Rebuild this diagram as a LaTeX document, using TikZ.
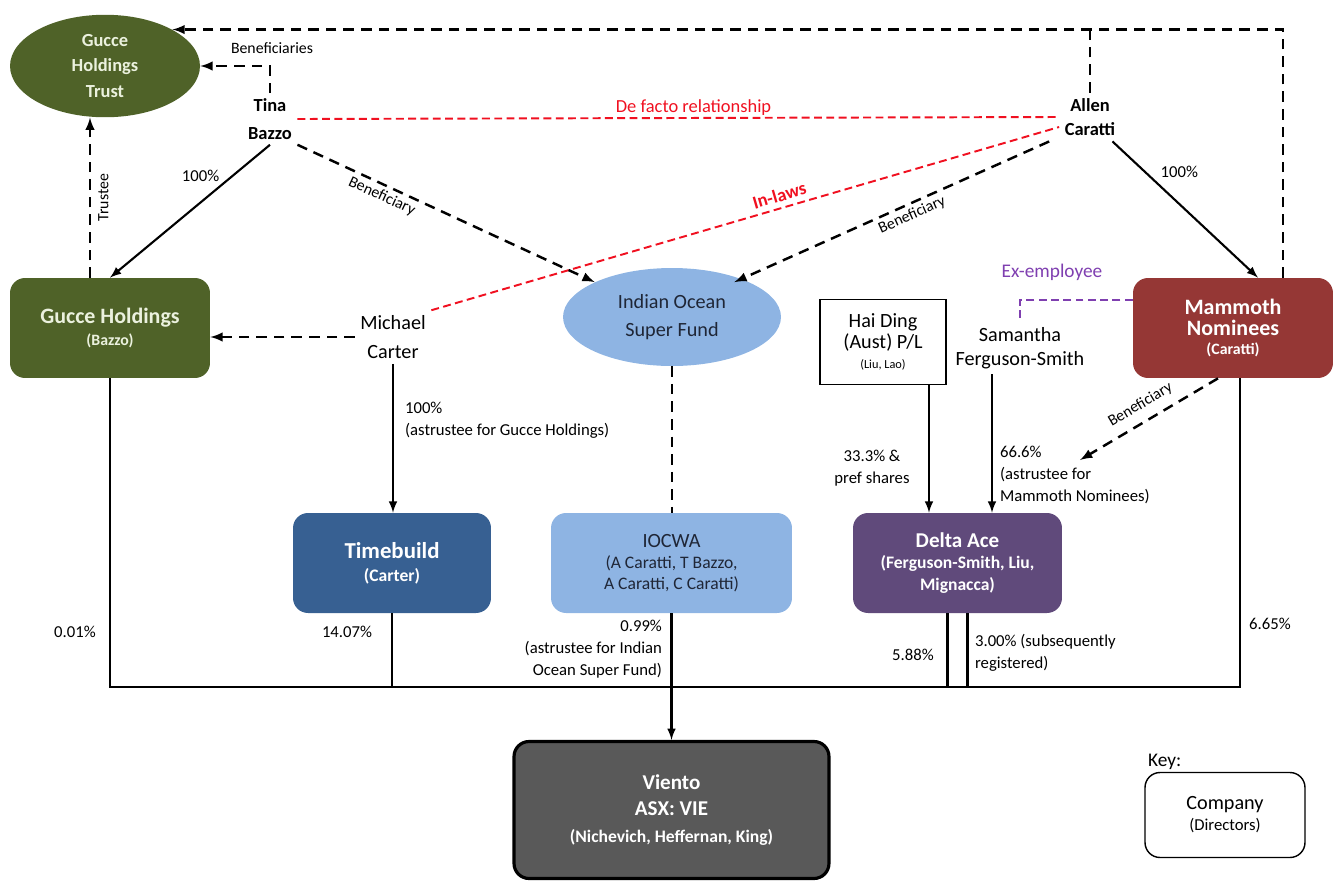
\documentclass[tikz,border=0pt]{standalone}
\usepackage{fontspec}
\setmainfont{Carlito}
\usetikzlibrary{shapes.geometric}

\definecolor{olivebox}{HTML}{4F6228}
\definecolor{olivetext}{HTML}{EBF1DE}
\definecolor{steelbox}{HTML}{376092}
\definecolor{skybox}{HTML}{8EB4E3}
\definecolor{skytext}{HTML}{1F2636}
\definecolor{plumbox}{HTML}{604A7B}
\definecolor{brickbox}{HTML}{953735}
\definecolor{slatebox}{HTML}{595959}
\definecolor{relred}{HTML}{F01020}
\definecolor{expurple}{HTML}{7F3FB0}

\newcommand{\fsz}[2]{\fontsize{#1}{#2}\selectfont}

\tikzset{
  company/.style={rounded corners=0.3cm, minimum width=4cm, minimum height=2cm, align=center, inner sep=2pt, font=\bfseries},
  person/.style={align=center, inner sep=3pt},
  own/.style={-latex, line width=1.2pt},
  benef/.style={-latex, line width=1.4pt, dash pattern=on 6pt off 4pt},
  link/.style={line width=1.4pt, dash pattern=on 6pt off 4pt},
  rel/.style={relred, line width=1.1pt, dash pattern=on 4.5pt off 2.5pt},
  bus/.style={line width=1.2pt},
  pct/.style={font=\fsz{9.5}{12.5}, align=left, inner sep=1pt},
}

\begin{document}
\begin{tikzpicture}[x=0.02cm, y=-0.02cm]
    \useasboundingbox (0,0) rectangle (1333,880);

    % owners and trusts
    \node[ellipse, fill=olivebox, text=olivetext, minimum width=3.8cm, minimum height=2.05cm, align=center, inner sep=0pt, font=\bfseries\fsz{10.5}{14.5}] (trust) at (105,66) {Gucce\\Holdings\\Trust};
    \node[person, font=\bfseries\fsz{10.5}{15.5}] (tina) at (270,119) {Tina\\Bazzo};
    \node[person, font=\bfseries\fsz{10.5}{14}] (allen) at (1090,117) {Allen\\Caratti};
    \node[person, font=\fsz{11.5}{16}] (mc) at (393,337) {Michael\\Carter};
    \node[person, font=\fsz{11.5}{13.5}] (sfs) at (1020,348) {Samantha\\Ferguson-Smith};
    \node[ellipse, fill=skybox, text=skytext, minimum width=4.36cm, minimum height=1.96cm, align=center, inner sep=0pt, font=\fsz{11.5}{16}] (iosf) at (672,317) {Indian Ocean\\Super Fund};

    % companies
    \node[company, fill=olivebox, text=olivetext] (gh) at (110,328) {\fsz{12.5}{15}Gucce Holdings\\[1pt]\fsz{9}{11}(Bazzo)};
    \node[company, fill=brickbox, text=white, minimum width=4cm] (mam) at (1233,328) {\fsz{12.5}{15}Mammoth\\\fsz{12.5}{15}Nominees\\[-1pt]\fsz{9}{11}(Caratti)};
    \node[draw, line width=0.8pt, minimum width=2.52cm, minimum height=1.7cm, align=center, inner sep=1pt] (hd) at (883,342) {\fsz{11.5}{14}Hai Ding\\\fsz{11.5}{14}(Aust) P/L\\[-1pt]\fsz{7}{9}(Liu, Lao)};
    \node[company, fill=steelbox, text=white, minimum width=3.96cm] (tb) at (392,563) {\fsz{13}{16}Timebuild\\[1pt]\fsz{10}{12}(Carter)};
    \node[company, fill=skybox, text=skytext, minimum width=4.82cm, font=\normalfont] (iocwa) at (671.5,563) {\fsz{11.5}{14}IOCWA\\\fsz{10}{12.5}(A Caratti, T Bazzo,\\\fsz{10}{12.5}A Caratti, C Caratti)};
    \node[company, fill=plumbox, text=white, minimum width=4.18cm] (da) at (957.5,563) {\fsz{12}{14}Delta Ace\\\fsz{10}{12.5}(Ferguson-Smith, Liu,\\\fsz{10}{12.5}Mignacca)};
    \node[company, fill=slatebox, text=white, draw=black, line width=1.8pt, minimum width=6.3cm, minimum height=2.74cm] (vi) at (671.5,810) {\fsz{12}{15}Viento\\[3pt]\fsz{12}{15}ASX: VIE\\[3pt]\fsz{10}{13}(Nichevich, Heffernan, King)};

    % key
    \node[draw, rounded corners=0.3cm, line width=0.8pt, minimum width=3.2cm, minimum height=1.7cm, align=center] (key) at (1225,815) {\fsz{11.5}{14}Company\\\fsz{9.5}{12}(Directors)};
    \node[anchor=south west, inner sep=1pt, font=\fsz{11}{13}] (keylbl) at (1146,772) {Key:};

    % relationships
    \draw[rel] (tina.east) -- node[above, inner sep=1pt, pos=.52, font=\fsz{10.5}{12}] (defacto) {De facto relationship} (allen.west);
    \draw[rel] (mc.north east) -- node[above, sloped, pos=.56, inner sep=3pt, font=\bfseries\fsz{10.5}{12}] (inlaws) {In-laws} ([yshift=-0.2cm]allen.west);
    \draw[expurple, line width=1.1pt, dash pattern=on 4.5pt off 2.5pt] ([yshift=0.56cm]mam.west) -| (sfs.north);
    \node[text=expurple, font=\fsz{11}{13}] (exemp) at (1052,272) {Ex-employee};

    % trust links
    \draw[benef] (tina.north) |- (trust.east);
    \node[font=\fsz{9}{11}] (benlbl) at (272,48) {Beneficiaries};
    \draw[benef] ([xshift=1cm]mam.north) |- (trust.north east);
    \draw[link] (allen.north) -- (allen.north |- trust.north east);
    \draw[benef] ([xshift=-0.4cm]gh.north) -- node[below, rotate=90, inner sep=4pt, font=\fsz{9}{11}] (trustee) {Trustee} ([xshift=-0.4cm]gh.north |- trust.south);
    \draw[benef] (mc.west) -- (gh.east |- mc.west);

    % ownership from the top
    \draw[own] (tina.south) -- node[above left, pos=.3, inner sep=1pt, font=\fsz{9.5}{11}] (p100a) {100\%} (gh.north);
    \draw[own] ([xshift=0.45cm]allen.south) -- node[above right, pos=.3, inner sep=2pt, font=\fsz{9.5}{11}] (p100b) {100\%} ([xshift=0.5cm]mam.north);
    \draw[benef] (tina.south east) -- node[below, sloped, pos=.3, inner sep=2pt, font=\fsz{9}{11}] (bena) {Beneficiary} (iosf.north west);
    \draw[benef] ([xshift=-0.2cm]allen.south west) -- node[below, sloped, pos=.45, inner sep=2pt, font=\fsz{9}{11}] (benb) {Beneficiary} ([xshift=-0.3cm]iosf.north east);
    \draw[link] (iosf.south) -- (iosf.south |- iocwa.north);

    % ownership of the operating companies
    \draw[own] (mc.south) -- (mc.south |- tb.north);
    \node[pct, anchor=north west] (p100c) at (403,400) {100\%\\(astrustee for Gucce Holdings)};
    \draw[own] ([xshift=0.92cm]hd.south) -- ([xshift=0.92cm]hd.south |- da.north);
    \node[pct, align=center] (p333) at (872,468) {33.3\% \&\\pref shares};
    \draw[own] ([xshift=-0.56cm]sfs.south) -- ([xshift=-0.56cm]sfs.south |- da.north);
    \node[pct, anchor=north west] (p666) at (998,444) {66.6\%\\(astrustee for\\Mammoth Nominees)};
    \coordinate (bentip) at (1080,460);
    \draw[benef] ([xshift=-0.3cm]mam.south) -- node[above, sloped, pos=.5, inner sep=5pt, font=\fsz{9}{11}] (benc) {Beneficiary} (bentip);

    % holdings in Viento
    \coordinate (bus) at (0,687);
    \draw[bus] (gh.south) -- (gh.south |- bus) -- ([xshift=0.14cm]mam.south |- bus) -- ([xshift=0.14cm]mam.south);
    \draw[bus] (tb.south) -- (tb.south |- bus);
    \draw[bus] ([xshift=-0.2cm]da.south) -- ([xshift=-0.2cm]da.south |- bus);
    \draw[bus] ([xshift=0.2cm]da.south) -- ([xshift=0.2cm]da.south |- bus);
    \draw[own] (iocwa.south) -- (vi.north);
    \node[pct] (p001) at (75,632) {0.01\%};
    \node[pct] (p1407) at (347,632) {14.07\%};
    \node[pct, align=right, anchor=east] (p099) at (664,649) {0.99\%\\(astrustee for Indian\\Ocean Super Fund)};
    \node[pct] (p588) at (913,655) {5.88\%};
    \node[pct, anchor=west] (p300) at (973,653) {3.00\% (subsequently\\registered)};
    \node[pct] (p665) at (1270,624) {6.65\%};
\end{tikzpicture}
\end{document}
